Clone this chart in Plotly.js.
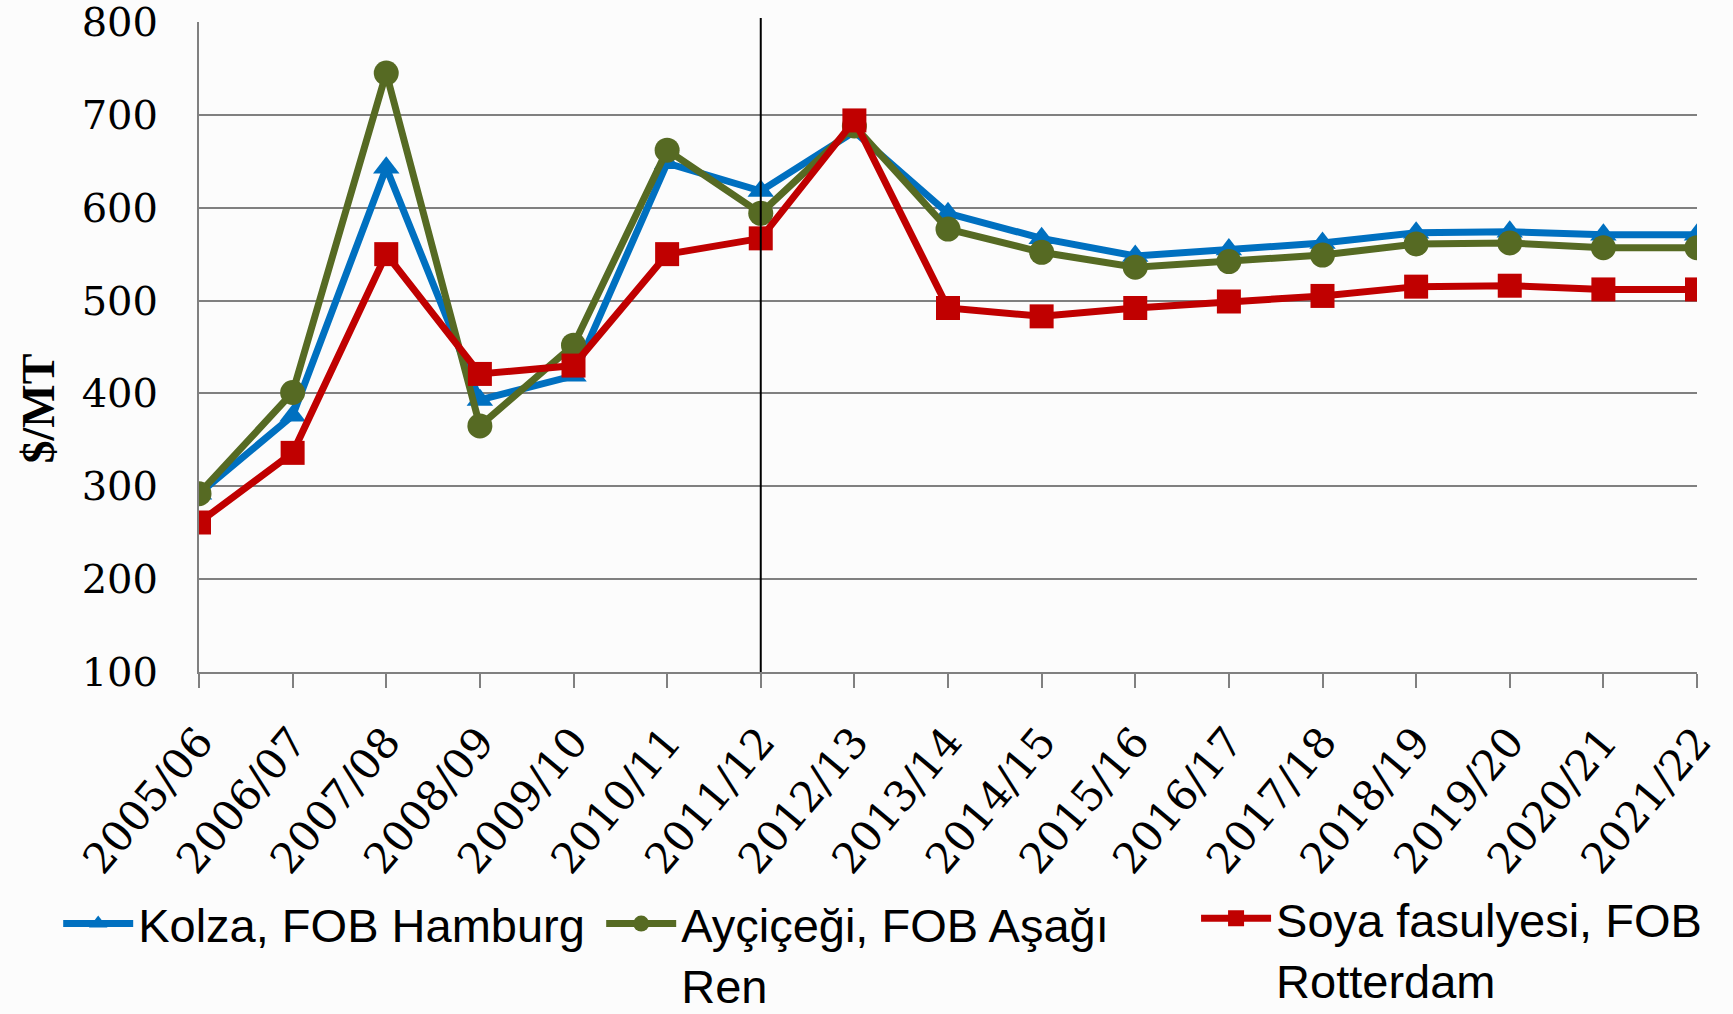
<!DOCTYPE html>
<html>
<head>
<meta charset="utf-8">
<script src="https://cdn.plot.ly/plotly-3.0.1.min.js"></script>
<style>html,body{margin:0;padding:0;background:#fcfcfc;}#chart{width:1733px;height:1014px;}</style>
</head>
<body>
<div id="chart"></div>
<script>
const categories = ["2005/06","2006/07","2007/08","2008/09","2009/10","2010/11","2011/12","2012/13","2013/14","2014/15","2015/16","2016/17","2017/18","2018/19","2019/20","2020/21","2021/22"];
const kolza = [292, 376, 643, 393, 419, 648, 618, 682, 594, 567, 548, 555, 562, 573, 574, 571, 571];
const aycicegi = [292, 401, 745, 365, 452, 662, 594, 688, 577, 552, 536, 542, 549, 561, 562, 557, 557];
const soya = [261, 336, 550, 421, 430, 550, 567, 694, 492, 483, 492, 499, 505, 515, 516, 512, 512];
const seriesNames = ["Kolza, FOB Hamburg", "Ayçiçeği, FOB Aşağı<br>Ren", "Soya fasulyesi, FOB<br>Rotterdam"];
const yTitle = "<b>$/MT</b>";
const markerLine = "2011/12";

const serif = "DejaVu Serif, Liberation Serif, serif";
const sans = "Liberation Sans, Arial, sans-serif";
const traces = [
  {x: categories, y: kolza, name: seriesNames[0], type: "scatter", mode: "lines+markers", legend: "legend",
   line: {color: "#0070C0", width: 7}, marker: {symbol: "triangle-up", size: 23, color: "#0070C0"}},
  {x: categories, y: aycicegi, name: seriesNames[1], type: "scatter", mode: "lines+markers", legend: "legend",
   line: {color: "#566A23", width: 7}, marker: {symbol: "circle", size: 25, color: "#566A23"}},
  {x: categories, y: soya, name: seriesNames[2], type: "scatter", mode: "lines+markers", legend: "legend2",
   line: {color: "#C00000", width: 7}, marker: {symbol: "square", size: 24, color: "#C00000"}}
];

const legendCommon = {orientation: "h", xanchor: "left", yanchor: "top",
  font: {family: sans, size: 47, color: "#000"}, itemwidth: 70, valign: "top",
  bgcolor: "rgba(0,0,0,0)"};

const layout = {
  width: 1733, height: 1014,
  paper_bgcolor: "#fcfcfc", plot_bgcolor: "#fcfcfc",
  margin: {l: 199, r: 36, t: 22, b: 342, autoexpand: false},
  showlegend: true,
  legend: Object.assign({}, legendCommon, {x: -0.094, y: -0.33, entrywidth: 458, entrywidthmode: "pixels"}),
  legend2: Object.assign({}, legendCommon, {x: 0.6656, y: -0.322}),
  xaxis: {type: "category", range: [0, 16], tickangle: -50, showgrid: false, automargin: false,
          showline: true, linecolor: "#808080", linewidth: 2,
          ticks: "outside", ticklen: 14, tickcolor: "#808080", tickwidth: 2, ticklabelstandoff: 12,
          tickfont: {family: serif, size: 42, color: "#000"}, zeroline: false},
  yaxis: {range: [100, 800], dtick: 100, tick0: 100, automargin: false,
          showgrid: true, gridcolor: "#808080", gridwidth: 2,
          showline: true, linecolor: "#808080", linewidth: 2, ticklabeloverflow: "allow",
          ticks: "", ticklabelstandoff: 31, tickfont: {family: serif, size: 40, color: "#000"},
          zeroline: false},
  annotations: [{text: yTitle, xref: "paper", yref: "paper", x: -0.107, y: 0.405, xanchor: "center", yanchor: "middle",
                 textangle: -90, showarrow: false, font: {family: "Liberation Serif, serif", size: 46, color: "#000"}}],
  shapes: [{type: "line", xref: "x", yref: "paper", x0: markerLine, x1: markerLine, y0: 0, y1: 1.006,
            line: {color: "#000", width: 2}}]
};

Plotly.newPlot("chart", traces, layout, {displayModeBar: false, staticPlot: true});
</script>
</body>
</html>
